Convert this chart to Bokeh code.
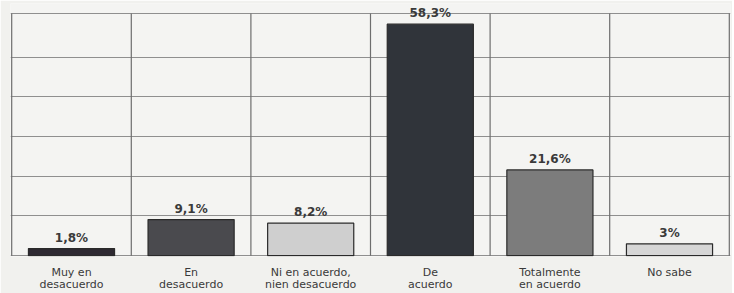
from bokeh.plotting import figure
from bokeh.models import FixedTicker, ColumnDataSource
from bokeh.embed import file_html
from bokeh.resources import INLINE
from bokeh.core.properties import value

categories = ["Muy en\ndesacuerdo", "En\ndesacuerdo", "Ni en acuerdo,\nnien desacuerdo",
              "De\nacuerdo", "Totalmente\nen acuerdo", "No sabe"]
values = [1.8, 9.1, 8.2, 58.3, 21.6, 3.0]
labels = ["1,8%", "9,1%", "8,2%", "58,3%", "21,6%", "3%"]
colors = ["#2e2a32", "#4a4a4e", "#cfcfcf", "#30343a", "#7c7c7c", "#d6d6d6"]
grid_y = [0, 10, 20, 30, 40, 50, 61]
grid_x = [0.5, 1.5, 2.5, 3.5, 4.5, 5.5, 6.5]
y_top = 61

xs = list(range(1, len(categories) + 1))
src = ColumnDataSource(dict(x=xs, top=values, lab=labels, color=colors))

p = figure(width=732, height=293, x_range=(0.49, 6.51), y_range=(-0.2, 63.5),
           output_backend="svg", toolbar_location=None,
           min_border_left=10, min_border_right=2, min_border_top=3, min_border_bottom=0)
p.background_fill_color = "#f4f4f2"
p.border_fill_color = "#f1f1ee"
p.outline_line_color = None

p.ygrid.ticker = FixedTicker(ticks=grid_y)
p.ygrid.grid_line_color = "#8f8f8f"
p.ygrid.grid_line_width = 1
p.xgrid.grid_line_color = None
p.segment(x0=grid_x, y0=[0] * len(grid_x), x1=grid_x, y1=[y_top] * len(grid_x),
          line_color="#6e6e6e", line_width=1.2)

p.vbar(x="x", top="top", width=0.72, bottom=0, fill_color="color",
       line_color="#2a2a2a", line_width=1.2, source=src)
p.text(x="x", y="top", text="lab", source=src, y_offset=-4,
       text_align="center", text_baseline="bottom",
       text_font=value("DejaVu Sans"), text_font_size="12px",
       text_font_style="bold", text_color="#3a3a3a")

p.yaxis.visible = False
p.xaxis.ticker = FixedTicker(ticks=xs)
p.xaxis.major_label_overrides = {i: c for i, c in zip(xs, categories)}
p.xaxis.major_label_text_font = "DejaVu Sans"
p.xaxis.major_label_text_font_size = "11px"
p.xaxis.major_label_text_color = "#3a3a3a"
p.xaxis.major_label_text_line_height = 0.95
p.xaxis.major_label_standoff = 3
p.xaxis.major_tick_line_color = None
p.xaxis.minor_tick_line_color = None
p.xaxis.axis_line_color = None

open("out.html", "w").write(file_html(p, INLINE))
